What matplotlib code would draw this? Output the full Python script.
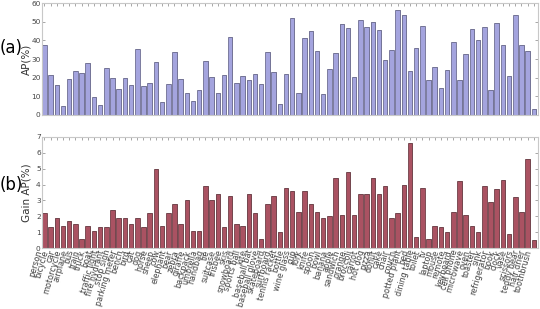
import numpy as np
import matplotlib
matplotlib.use('Agg')
import matplotlib.pyplot as plt

categories = ['person', 'bicycle', 'car', 'motorcycle', 'airplane', 'bus', 'train', 'truck',
              'boat', 'traffic light', 'fire hydrant', 'stop sign', 'parking meter', 'bench',
              'bird', 'cat', 'dog', 'horse', 'sheep', 'cow', 'elephant', 'bear', 'zebra',
              'giraffe', 'backpack', 'umbrella', 'handbag', 'tie', 'suitcase', 'frisbee',
              'skis', 'snowboard', 'sports ball', 'kite', 'baseball bat', 'baseball glove',
              'skateboard', 'surfboard', 'tennis racket', 'bottle', 'wine glass', 'cup',
              'fork', 'knife', 'spoon', 'bowl', 'banana', 'apple', 'sandwich', 'orange',
              'broccoli', 'carrot', 'hot dog', 'pizza', 'donut', 'cake', 'chair', 'couch',
              'potted plant', 'bed', 'dining table', 'toilet', 'tv', 'laptop', 'mouse',
              'remote', 'keyboard', 'cell phone', 'microwave', 'oven', 'toaster', 'sink',
              'refrigerator', 'book', 'clock', 'vase', 'scissors', 'teddy bear',
              'hair drier', 'toothbrush']

ap = [37.6, 21.3, 16.1, 4.8, 19.2, 23.7, 22.6, 28.0, 9.7, 5.4,
      25.1, 19.7, 13.8, 19.7, 15.9, 35.5, 15.4, 17.2, 28.5, 7.2,
      16.5, 33.7, 19.5, 11.8, 7.5, 13.3, 28.9, 20.3, 11.6, 21.3,
      41.8, 17.0, 20.8, 18.6, 21.7, 16.5, 33.5, 22.9, 5.7, 21.9,
      52.0, 11.6, 41.2, 45.0, 34.2, 11.1, 24.6, 33.2, 48.9, 46.6,
      20.1, 50.9, 47.3, 49.8, 45.5, 29.4, 34.8, 56.3, 53.6, 23.7,
      35.8, 47.7, 18.6, 25.6, 14.3, 24.0, 39.1, 18.6, 32.8, 45.9,
      40.1, 47.1, 13.4, 49.3, 37.5, 20.8, 53.6, 37.5, 34.1, 3.0]

gain = [2.2, 1.3, 1.9, 1.4, 1.7, 1.5, 0.6, 1.4, 1.1, 1.3,
        1.3, 2.4, 1.9, 1.9, 1.5, 1.9, 1.3, 2.2, 5.0, 1.4,
        2.2, 2.8, 1.5, 3.0, 1.1, 1.1, 3.9, 3.0, 3.4, 1.3,
        3.3, 1.5, 1.4, 3.4, 2.2, 0.6, 2.8, 3.3, 1.0, 3.8,
        3.6, 2.3, 3.6, 2.8, 2.3, 1.9, 2.0, 4.4, 2.1, 4.8,
        2.1, 3.4, 3.4, 4.4, 3.4, 3.9, 1.9, 2.2, 4.0, 6.6,
        0.7, 3.8, 0.6, 1.4, 1.3, 1.0, 2.3, 4.2, 2.1, 1.4,
        1.0, 3.9, 2.9, 3.7, 4.3, 0.9, 3.2, 2.3, 5.6, 0.5]

x = np.arange(len(categories))
w = 0.72

fig = plt.figure(figsize=(5.4, 3.09), dpi=100)
ax1 = fig.add_axes([0.078, 0.628, 0.918, 0.362])
ax2 = fig.add_axes([0.078, 0.197, 0.918, 0.360])


def draw(ax, vals, fill, edge):
    # light grey shadow on the right, then the bar itself
    ax.bar(x + 0.14, vals, w, align='edge', color='#c4c4c4', linewidth=0, zorder=1)
    ax.bar(x, vals, w, align='edge', color=fill, edgecolor=edge, linewidth=0.5, zorder=2)
    ax.set_xlim(0, len(categories))
    for s in ax.spines.values():
        s.set_color('#c8c8c8')
        s.set_linewidth(0.8)
    ax.tick_params(direction='in', length=2, width=0.6, color='#999999',
                   top=True, right=True, labelsize=5.3, labelcolor='#444444', pad=1)
    ax.set_xticks(x + w / 2)


draw(ax1, ap, '#a4a4de', '#5a5a80')
ax1.set_ylim(0, 60)
ax1.set_yticks(np.arange(0, 61, 10))
ax1.set_xticklabels([])
ax1.set_ylabel('AP(%)', fontsize=7.5, color='#333333')
ax1.yaxis.set_label_coords(-0.021, 0.5)

draw(ax2, gain, '#aa5262', '#5a2a33')
ax2.set_ylim(0, 7)
ax2.set_yticks(np.arange(0, 8, 1))
ax2.set_xticklabels(categories, rotation=74, ha='right', fontsize=5.8,
                    color='#444444')
ax2.tick_params(axis='x', pad=0.5)
ax2.set_ylabel('Gain AP(%)', fontsize=7.5, color='#333333')
ax2.yaxis.set_label_coords(-0.021, 0.5)

fig.text(0.0, 0.845, '(a)', fontsize=12, va='center', ha='left')
fig.text(0.0, 0.40, '(b)', fontsize=12, va='center', ha='left')

plt.savefig('out.png', dpi=100)
plt.close()
